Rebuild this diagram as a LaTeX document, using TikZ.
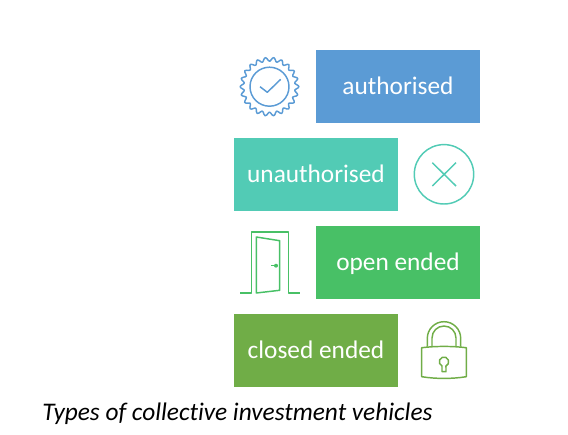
\documentclass[tikz,border=0pt]{standalone}
\usepackage{xcolor}
\usepackage{fontspec}
\setmainfont[Ligatures=NoCommon]{Carlito}
\definecolor{authblue}{HTML}{5B9BD5}
\definecolor{unauthteal}{HTML}{52CBB5}
\definecolor{opengreen}{HTML}{48C066}
\definecolor{closedgreen}{HTML}{70AD47}
\tikzset{
  vehiclebox/.style={minimum width=123pt, minimum height=54.75pt, inner sep=0pt,
        text=white, text depth=1.5pt, font=\fontsize{19}{22}\selectfont},
  iconline/.style={line width=1.1pt, line join=round}
}

\begin{document}
\begin{tikzpicture}[x=0.75pt, y=-0.75pt]
      \useasboundingbox (0,0) rectangle (568,435);
      \node[vehiclebox, fill=authblue] (authorised) at (398,86.5) {authorised};
      \node[vehiclebox, fill=unauthteal] (unauthorised) at (316,174.5) {unauthorised};
      \node[vehiclebox, fill=opengreen] (openended) at (398,262.5) {open ended};
      \node[vehiclebox, fill=closedgreen] (closedended) at (316,350.5) {closed ended};
      \node[anchor=base west, inner sep=0pt, font=\fontsize{19}{22}\selectfont\itshape] (caption)
            at (42,420) {Types of collective investment vehicles};
      % badge
      \draw[iconline, authblue] plot[smooth cycle, domain=0:358, samples=132]
            ({269.5+(27.4+2*cos(22*\x))*cos(\x)}, {86.7+(27.4+2*cos(22*\x))*sin(\x)});
      \draw[iconline, authblue] (269.5,86.7) circle[radius=19.5];
      \draw[iconline, authblue] (260,86.7) -- (267.3,92.3) -- (280.7,79.3);
      % cross
      \draw[iconline, unauthteal] (444,174.3) circle[radius=29.7];
      \draw[iconline, unauthteal] (432.3,162.7) -- (456,186) (456,162.7) -- (432.3,186);
      % door
      \draw[iconline, opengreen] (240,293) -- (251.3,293) -- (251.3,232) -- (288.7,232)
            -- (288.7,293) -- (300.3,293);
      \draw[iconline, opengreen] (256.3,237) -- (279.7,240.7) -- (279.7,290.3) -- (256.3,293) -- cycle;
      \draw[iconline, opengreen] (271,265.7) -- (276,265.7);
      \fill[opengreen] (276,265.7) circle[radius=2];
      % lock
      \draw[iconline, closedgreen] (421.7,347.7) .. controls (436,346) and (452,346) .. (466.3,347.7)
            -- (466.3,376.7) .. controls (452,379) and (436,379) .. (421.7,376.7) -- cycle;
      \draw[iconline, closedgreen] (427.3,346.5) -- (427.3,338.4) arc[start angle=180, end angle=360, radius=16.7]
            -- (460.7,346.5);
      \draw[iconline, closedgreen] (432,346.2) -- (432,338) arc[start angle=180, end angle=360, radius=12]
            -- (456,346.2);
      \draw[iconline, closedgreen] (442,371.7) -- (442,366) arc[start angle=115, end angle=425, radius=4.7]
            -- (446,371.7) -- cycle;
    \end{tikzpicture}
\end{document}
